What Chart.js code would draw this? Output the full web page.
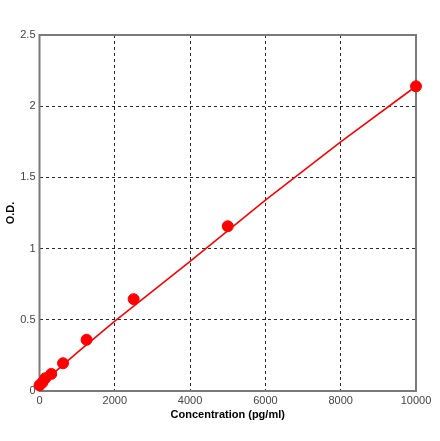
<!DOCTYPE html>
<html>
<head>
<meta charset="utf-8">
<script src="https://cdn.jsdelivr.net/npm/chart.js@4"></script>
<style>
html,body{margin:0;padding:0;background:#fff;overflow:hidden;}
#wrap{width:440px;height:441px;position:relative;}
</style>
</head>
<body>
<div id="wrap"><canvas id="c" width="440" height="441"></canvas></div>
<script>
const concentrations = [0, 78, 156, 312, 625, 1250, 2500, 5000, 10000];
const odValues = [0.04, 0.06, 0.09, 0.12, 0.195, 0.36, 0.645, 1.157, 2.14];
const fitX = [0, 1000, 2000, 4000, 6000, 8000, 10000];
const fitY = [0.04, 0.27, 0.49, 0.91, 1.34, 1.75, 2.14];
const xTicks = [0, 2000, 4000, 6000, 8000, 10000];
const yTicks = [0, 0.5, 1, 1.5, 2, 2.5];
const xTitle = 'Concentration (pg/ml)';
const yTitle = 'O.D.';

const pts = concentrations.map((x, i) => ({x, y: odValues[i]}));
const fit = fitX.map((x, i) => ({x, y: fitY[i]}));

const boxPlugin = {
  id: 'box',
  beforeDatasetsDraw(chart) {
    const {ctx, chartArea: a} = chart;
    ctx.save();
    ctx.strokeStyle = '#7a7a7a';
    ctx.lineWidth = 2;
    ctx.strokeRect(a.left, a.top, a.right - a.left, a.bottom - a.top);
    ctx.restore();
  }
};

const gridColor = (ctx) => {
  const v = ctx.tick && ctx.tick.value;
  const s = ctx.scale;
  if (v === s.min || v === s.max) return 'rgba(0,0,0,0)';
  return '#2a2a2a';
};

new Chart(document.getElementById('c'), {
  type: 'scatter',
  data: {
    datasets: [
      {
        label: 'fit',
        data: fit,
        showLine: true,
        borderColor: '#ff0000',
        borderWidth: 1.6,
        pointRadius: 0,
        fill: false,
        clip: false,
        order: 2
      },
      {
        label: 'standards',
        data: pts,
        backgroundColor: '#ff0000',
        borderColor: '#ff0000',
        pointRadius: 5.5,
        pointHoverRadius: 5.5,
        clip: false,
        order: 1
      }
    ]
  },
  options: {
    responsive: false,
    animation: false,
    devicePixelRatio: 1,
    layout: {padding: {left: 4, right: 24, top: 35, bottom: 19}},
    plugins: {legend: {display: false}, tooltip: {enabled: false}},
    scales: {
      x: {
        type: 'linear',
        min: 0, max: 10000,
        afterBuildTicks(s) { s.ticks = xTicks.map(v => ({value: v})); },
        afterFit(s) { s.height = 31; },
        border: {display: false, dash: [3, 3]},
        grid: {color: gridColor, lineWidth: 1, drawTicks: false},
        ticks: {color: '#444', font: {family: 'Liberation Sans, Arial', size: 11}, padding: 3, maxRotation: 0, autoSkip: false,
          callback: v => String(v)},
        title: {display: true, text: xTitle, color: '#000', font: {family: 'Liberation Sans, Arial', size: 11, weight: 'bold'}, padding: {top: 4, bottom: 0}}
      },
      y: {
        type: 'linear',
        min: 0, max: 2.5,
        afterBuildTicks(s) { s.ticks = yTicks.map(v => ({value: v})); },
        afterFit(s) { s.width = 35.5; },
        border: {display: false, dash: [3, 3]},
        grid: {color: gridColor, lineWidth: 1, drawTicks: false},
        ticks: {color: '#444', font: {family: 'Liberation Sans, Arial', size: 11}, padding: 4,
          callback: v => String(v)},
        title: {display: true, text: yTitle, color: '#000', font: {family: 'Liberation Sans, Arial', size: 11, weight: 'bold'}, padding: {top: 0, bottom: 4}}
      }
    }
  },
  plugins: [boxPlugin]
});
</script>
</body>
</html>
